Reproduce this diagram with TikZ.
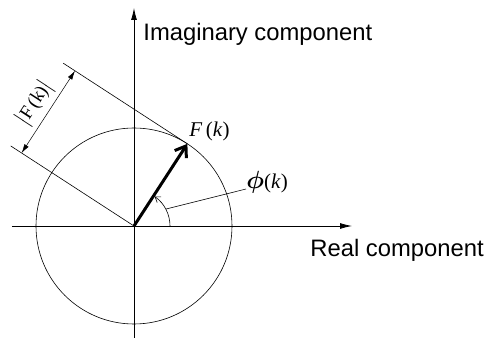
\documentclass[tikz,border=0pt]{standalone}
\usepackage{fontspec}
\usepackage{amsmath,amssymb}
\newfontfamily\axisfont{Liberation Sans}
\newfontfamily\labelfont{Liberation Serif}
\usetikzlibrary{positioning, calc, arrows.meta}

\begin{document}
\begin{tikzpicture}[x=1pt, y=1pt, line width=0.8pt,
    axis/.style={-{Latex[length=12pt,width=6pt]}},
    thinline/.style={line width=0.6pt},
    dimarrow/.style={{Latex[length=9pt,width=5pt]}-{Latex[length=9pt,width=5pt]}, line width=0.5pt},
    axislabel/.style={font=\axisfont\fontsize{23.8}{26}\selectfont, inner sep=0pt, anchor=base west},
    mathlabel/.style={font=\labelfont\fontsize{21}{24}\selectfont, inner sep=0pt}]

    \useasboundingbox (-134,-116) rectangle (351,226);

    % --- Axes ---
    \coordinate (O) at (0,0);
    \coordinate (xmin) at (-122,0);
    \coordinate (xmax) at (218,0);
    \coordinate (ymin) at (0,-112);
    \coordinate (ymax) at (0,218);
    \draw[axis] (xmin) -- (xmax);
    \draw[axis] (ymin) -- (ymax);
    \node[axislabel] (re) at (176,-31) {Real component};
    \node[axislabel] (im) at (9,185) {Imaginary component};

    % --- Circle and phasor F(k) ---
    \draw[thinline] (O) circle (98);
    \coordinate (F) at (57:98);
    \draw[line width=3pt, -{Straight Barb[length=10pt,width=14pt]}] (O) -- (F);
    \node[mathlabel, anchor=base west] (Flabel) at (55,89) {\textit{F}\,(\textit{k})};

    % --- Magnitude |F(k)| ---
    \coordinate (T1) at ($(F)+(147:148)$);
    \coordinate (T2) at (147:147);
    \draw[thinline] (F) -- (T1);
    \draw[thinline] (O) -- (T2);
    \coordinate (D1) at (147:134);
    \coordinate (D2) at ($(F)+(147:134)$);
    \draw[dimarrow] (D1) -- (D2)
        node[midway, mathlabel, anchor=south, rotate=57, inner sep=4pt,
             font=\labelfont\fontsize{19}{22}\selectfont] (mag)
        {$\bigl|$F\,(k)$\bigr|$};

    % --- Phase angle phi(k) ---
    \draw[thinline, -{Straight Barb[length=5pt,width=7pt]}] (36,0)
        arc[start angle=0, end angle=55, radius=36];
    \coordinate (lead) at (28:36);
    \node[mathlabel, anchor=base west] (phi) at (112,37)
        {\scalebox{1.2}{$\boldsymbol{\phi}$}(\textit{k})};
    \draw[thinline] (lead) -- (phi.base west);

\end{tikzpicture}
\end{document}
